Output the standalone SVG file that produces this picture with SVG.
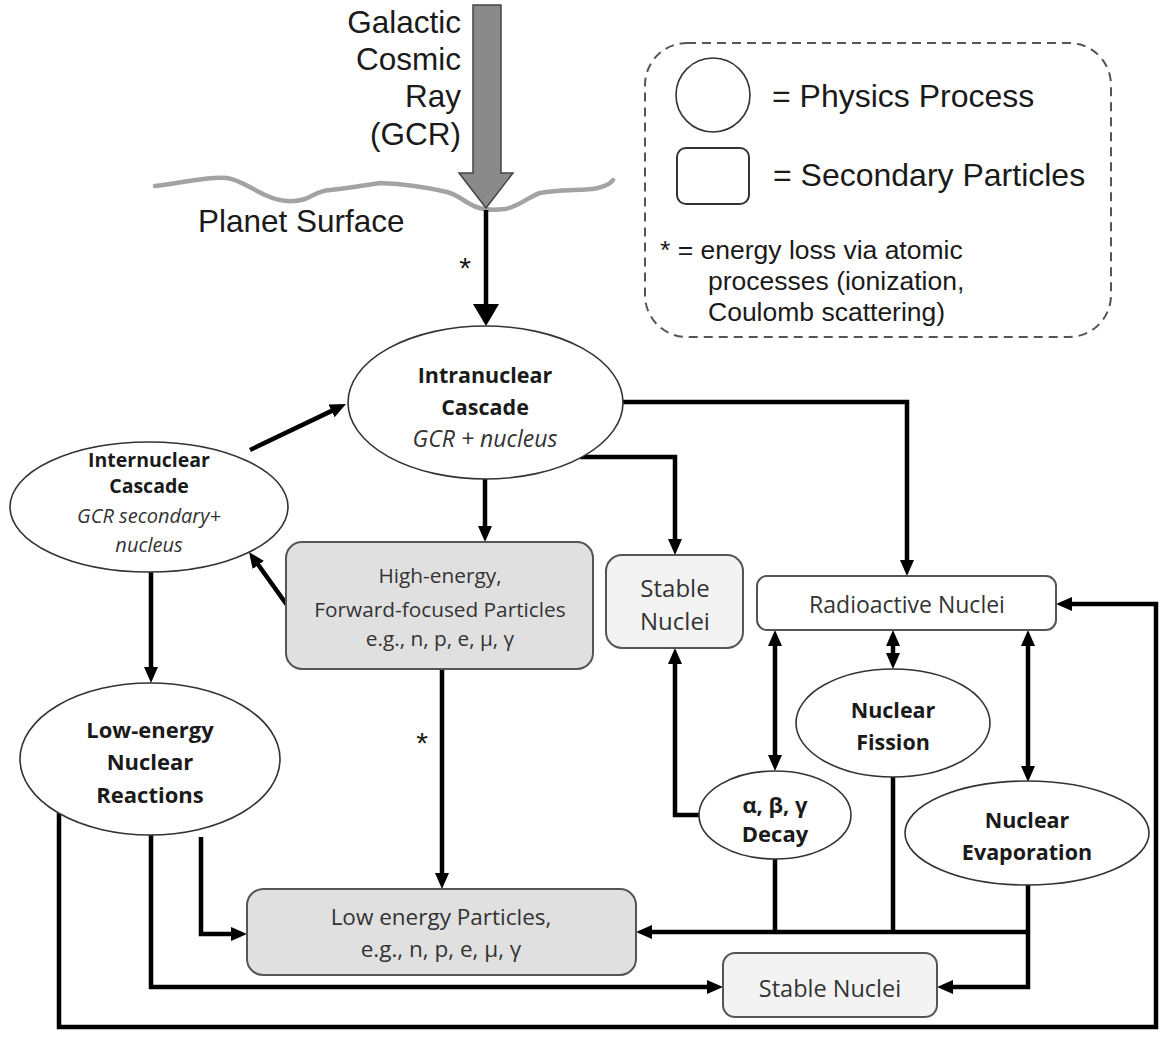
<svg xmlns="http://www.w3.org/2000/svg" width="1165" height="1038" viewBox="0 0 1165 1038">
<style>
.big{font-family:"Liberation Sans",Arial,sans-serif;font-size:31.5px;fill:#1a1a1a}
.leg{font-family:"Liberation Sans",Arial,sans-serif;font-size:26.5px;fill:#1a1a1a}
.proc{fill:#fff;stroke:#333;stroke-width:1.6}
.box{stroke:#555;stroke-width:2}
.b{font-family:"Open Sans","Noto Sans",sans-serif;font-weight:bold;fill:#1a1a1a;text-anchor:middle}
.i{font-family:"Open Sans","Noto Sans",sans-serif;font-style:italic;fill:#333;text-anchor:middle}
.r{font-family:"Open Sans","Noto Sans",sans-serif;fill:#333;text-anchor:middle}
.c{fill:none;stroke:#000;stroke-width:4.5;stroke-linejoin:miter}
</style>
<defs>
<marker id="ah" markerUnits="userSpaceOnUse" markerWidth="16" markerHeight="14" refX="10" refY="7" orient="auto-start-reverse">
<path d="M0,0 L16,7 L0,14 z" fill="#000"/>
</marker>
<marker id="ahBig" markerUnits="userSpaceOnUse" markerWidth="22" markerHeight="26" refX="15" refY="13" orient="auto">
<path d="M0,0 L22,13 L0,26 z" fill="#000"/>
</marker>
</defs>
<rect width="1165" height="1038" fill="#fff"/>

<!-- Planet surface -->
<g id="surface">
<path d="M155,186 C185,183 205,176 227,178 C240,180 250,188 265,195 C278,201 292,203 305,199 C315,195 318,191 330,190 C350,188 365,185 380,183 C405,184 430,188 447,192 C458,195 462,200 470,204 C478,209 490,211 505,209 C520,206 528,197 540,193 C560,189 585,191 598,188 C606,186 611,183 613,180" fill="none" stroke="#a3a3a3" stroke-width="4.5" stroke-linecap="round"/>
<text class="big" x="198" y="232">Planet Surface</text>
</g>

<!-- GCR arrow -->
<g id="gcr">
<path d="M473,5 H501 V173 H513 L486,208 L459,173 H473 Z" fill="#8a8a8a" stroke="#444" stroke-width="1.5"/>
<text class="big" text-anchor="end" x="461" y="33">Galactic</text>
<text class="big" text-anchor="end" x="461" y="70">Cosmic</text>
<text class="big" text-anchor="end" x="461" y="107">Ray</text>
<text class="big" text-anchor="end" x="461" y="145">(GCR)</text>
</g>

<!-- Legend -->
<g id="legend">
<rect x="645" y="43" width="466" height="294" rx="42" fill="none" stroke="#555" stroke-width="2" stroke-dasharray="9 6"/>
<circle cx="713" cy="95" r="37" fill="#fff" stroke="#333" stroke-width="1.6"/>
<rect x="677" y="148" width="72" height="56" rx="9" fill="#fff" stroke="#333" stroke-width="2"/>
<text class="big" x="772" y="107" style="font-size:32px">= Physics Process</text>
<text class="big" x="773" y="186" style="font-size:32px">= Secondary Particles</text>
<text class="leg" x="660" y="259">* = energy loss via atomic</text>
<text class="leg" x="708" y="290">processes (ionization,</text>
<text class="leg" x="708" y="321">Coulomb scattering)</text>
</g>

<!-- Connectors -->
<g id="connectors">
<path class="c" d="M486,210 V319" stroke-width="6" marker-end="url(#ahBig)"/>
<text class="big" x="465" y="278" text-anchor="middle" style="font-size:30px">*</text>
<path class="c" d="M250,450 L340.6,406.6" marker-end="url(#ah)"/>
<path class="c" d="M622,402 H907 V570" marker-end="url(#ah)"/>
<path class="c" d="M580,457 H675 V549" marker-end="url(#ah)"/>
<path class="c" d="M485,479 V536" marker-end="url(#ah)"/>
<path class="c" d="M287,605 L252.5,556.9" marker-end="url(#ah)"/>
<path class="c" d="M151,572 V677" marker-end="url(#ah)"/>
<path class="c" d="M442,669 V883" marker-end="url(#ah)"/>
<text class="big" x="422" y="753" text-anchor="middle" style="font-size:30px">*</text>
<path class="c" d="M201,837 V934 H241" marker-end="url(#ah)"/>
<path class="c" d="M151,835 V987 H717" marker-end="url(#ah)"/>
<path class="c" d="M59,813 V1027 H1156 V604 H1062" marker-end="url(#ah)"/>
<path class="c" d="M699,815 H675 V654" marker-end="url(#ah)"/>
<path class="c" d="M775,636 V765" marker-start="url(#ah)" marker-end="url(#ah)"/>
<path class="c" d="M893,636 V663" marker-start="url(#ah)" marker-end="url(#ah)"/>
<path class="c" d="M1028,636 V776" marker-start="url(#ah)" marker-end="url(#ah)"/>
<path class="c" d="M775,859 V932"/>
<path class="c" d="M893,777 V932"/>
<path class="c" d="M1028,885 V987 H943" marker-end="url(#ah)"/>
<path class="c" d="M1028,932 H642" marker-end="url(#ah)"/>
</g>

<!-- Nodes -->
<g id="intranuclear">
<ellipse class="proc" cx="485.5" cy="402.5" rx="137.5" ry="76.5"/>
<text class="b" x="485" y="383" font-size="21.5">Intranuclear</text>
<text class="b" x="485" y="415" font-size="21.5">Cascade</text>
<text class="i" x="485" y="447" font-size="23">GCR + nucleus</text>
</g>

<g id="internuclear">
<ellipse class="proc" cx="149" cy="507" rx="139" ry="65"/>
<text class="b" x="149" y="467" font-size="19.5">Internuclear</text>
<text class="b" x="149" y="493" font-size="19.5">Cascade</text>
<text class="i" x="149" y="523" font-size="20">GCR secondary+</text>
<text class="i" x="149" y="552" font-size="20">nucleus</text>
</g>

<g id="high-energy">
<rect class="box" x="286" y="542" width="307" height="127" rx="16" fill="#e0e0e0"/>
<text class="r" x="440" y="583" font-size="20.8">High-energy,</text>
<text class="r" x="440" y="617" font-size="20.8">Forward-focused Particles</text>
<text class="r" x="440" y="646" font-size="20.8">e.g., n, p, e, μ, γ</text>
</g>

<g id="stable-upper">
<rect class="box" x="606" y="555" width="137" height="93" rx="16" fill="#f3f3f3"/>
<text class="r" x="675" y="597" font-size="24">Stable</text>
<text class="r" x="675" y="630" font-size="24">Nuclei</text>
</g>

<g id="radioactive">
<rect class="box" x="757" y="576" width="299" height="54" rx="10" fill="#fff"/>
<text class="r" x="907" y="613" font-size="23">Radioactive Nuclei</text>
</g>

<g id="low-energy-reactions">
<ellipse class="proc" cx="150" cy="759" rx="130" ry="76"/>
<text class="b" x="150" y="738" font-size="22">Low-energy</text>
<text class="b" x="150" y="770" font-size="22">Nuclear</text>
<text class="b" x="150" y="803" font-size="22">Reactions</text>
</g>

<g id="fission">
<ellipse class="proc" cx="893" cy="723" rx="97" ry="54"/>
<text class="b" x="893" y="718" font-size="21.5">Nuclear</text>
<text class="b" x="893" y="750" font-size="21.5">Fission</text>
</g>

<g id="decay">
<ellipse class="proc" cx="775" cy="815" rx="76" ry="44"/>
<text class="b" x="775" y="813" font-size="22">α, β, γ</text>
<text class="b" x="775" y="842" font-size="22">Decay</text>
</g>

<g id="evaporation">
<ellipse class="proc" cx="1027" cy="833" rx="122" ry="52"/>
<text class="b" x="1027" y="828" font-size="21.5">Nuclear</text>
<text class="b" x="1027" y="860" font-size="21.5">Evaporation</text>
</g>

<g id="low-energy-particles">
<rect class="box" x="247" y="889" width="389" height="86" rx="16" fill="#e0e0e0"/>
<text class="r" x="441" y="925" font-size="22.5">Low energy Particles,</text>
<text class="r" x="441" y="957" font-size="22.5">e.g., n, p, e, μ, γ</text>
</g>

<g id="stable-lower">
<rect class="box" x="723" y="953" width="214" height="64" rx="12" fill="#f3f3f3"/>
<text class="r" x="830" y="997" font-size="23.5">Stable Nuclei</text>
</g>
</svg>
